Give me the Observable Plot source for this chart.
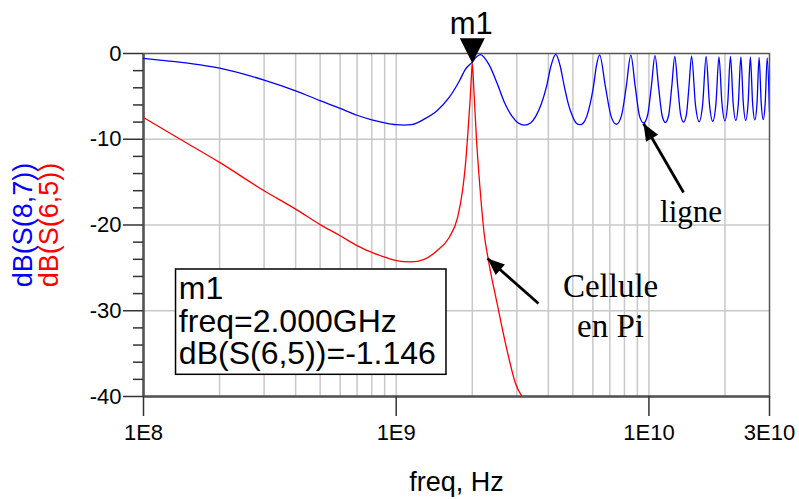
<!DOCTYPE html>
<html>
<head>
<meta charset="utf-8">
<script src="https://cdn.jsdelivr.net/npm/d3@7"></script>
<script src="https://cdn.jsdelivr.net/npm/@observablehq/plot@0.6"></script>
<style>
  html, body { margin: 0; padding: 0; background: #fff; }
</style>
</head>
<body>
<div id="chart"></div>
<script>
// ---- Data (frequency in GHz, level in dB) ----
const blueGHz = [0.1, 0.124, 0.168, 0.2, 0.3, 0.4, 0.5, 0.6, 0.7, 0.8, 0.9, 1.0, 1.07, 1.15, 1.29, 1.45, 1.62, 1.78, 1.88, 2.0, 2.07, 2.15,
  2.33, 2.51, 2.69, 2.87, 3.04, 3.22,
  3.4, 3.57, 3.75, 3.93, 4.1, 4.28,
  4.45, 4.63, 4.8, 4.98, 5.15, 5.33,
  5.5, 5.68, 5.85, 6.03, 6.2, 6.38,
  6.73, 7.08, 7.43,
  7.78, 8.13, 8.48,
  8.83, 9.18, 9.53,
  9.88, 10.22, 10.57,
  10.92, 11.27, 11.62,
  11.97, 12.31, 12.66,
  13.01, 13.36, 13.71,
  14.06, 14.4, 14.75,
  15.27, 15.8, 16.32, 16.84, 17.36, 17.89, 18.41, 18.93, 19.45, 19.98, 20.5, 21.02, 21.54, 22.07,
  22.59, 23.11, 23.63, 24.16, 24.68, 25.2, 25.72, 26.25, 26.77, 27.29, 27.81, 28.34, 28.86, 29.38, 30];
const blueDb = [-0.58, -0.85, -1.32, -1.7, -3.1, -4.35, -5.5, -6.4, -7.2, -7.73, -8.08, -8.3, -8.35, -8.3, -7.66, -6.68, -5.13, -3.18, -1.82, -1.0, -0.45, -0.12,
  -1.3, -3.5, -5.8, -7.3, -8.1, -8.35,
  -8.1, -7.3, -5.9, -3.9, -1.4, -0.1,
  -1.4, -3.9, -5.9, -7.3, -8.1, -8.3,
  -8.1, -7.3, -5.9, -3.9, -1.4, -0.15,
  -3.9, -7.3, -8.25,
  -7.3, -3.9, -0.2,
  -3.9, -7.3, -8.1,
  -7.2, -3.9, -0.25,
  -3.9, -7.2, -8.05,
  -7.2, -3.9, -0.35,
  -3.9, -7.2, -8.0,
  -7.2, -3.9, -0.3,
  -5.9, -7.95, -5.9, -0.35, -5.9, -7.9, -5.9, -0.4, -5.8, -7.85, -5.8, -0.35, -5.8, -7.8,
  -5.8, -0.4, -5.8, -7.8, -5.8, -0.4, -5.8, -7.75, -5.8, -0.45, -5.7, -7.7, -5.7, -0.5, -6.8];

const redGHz = [0.1, 0.136, 0.2, 0.3, 0.4, 0.5, 0.6, 0.7, 0.8, 0.9, 1.0, 1.14, 1.29, 1.45, 1.62, 1.75, 1.83, 1.88, 1.92, 1.96,
  1.99, 2.0, 2.03, 2.08, 2.15, 2.23, 2.32, 2.51, 2.75, 2.97, 3.2];
const redDb = [-7.46, -9.8, -12.7, -16.0, -18.15, -19.95, -21.25, -22.4, -23.2, -23.75, -24.15, -24.3, -24.0, -23.0, -21.45, -19.1, -16.0, -12.9, -9.4, -5.5,
  -2.0, -1.146, -4.35, -10.2, -16.0, -21.06, -24.2, -29.2, -34.7, -38.55, -40.3];

// ---- Axes / labels ----
const xTickValues = [1e8, 1e9, 1e10, 3e10];
const xTickLabels = ["1E8", "1E9", "1E10", "3E10"];
const yTickValues = [0, -10, -20, -30, -40];
const yTickLabels = ["0", "-10", "-20", "-30", "-40"];
const yMinorTicks = [-2, -4, -6, -8, -12, -14, -16, -18, -22, -24, -26, -28, -32, -34, -36, -38];
const xGrid = [2e8, 3e8, 4e8, 5e8, 6e8, 7e8, 8e8, 9e8, 1e9, 2e9, 3e9, 4e9, 5e9, 6e9, 7e9, 8e9, 9e9, 1e10, 2e10];
const yGrid = [-10, -20, -30];
const xLabel = "freq, Hz";
const blueLabel = "dB(S(8,7))";
const redLabel = "dB(S(6,5))";

// ---- Marker m1 ----
const markerName = "m1";
const markerFreqHz = 2e9;
const markerDb = -1.146;
const markerLines = ["m1", "freq=2.000GHz", "dB(S(6,5))=-1.146"];

// ---- Annotations ----
const ligneText = "ligne";
const celluleText = "Cellule\nen Pi";

// build tables
if (blueGHz.length !== blueDb.length || redGHz.length !== redDb.length) console.error("length mismatch");
const blue = blueGHz.map((g, i) => ({f: g * 1e9, db: blueDb[i]}));
const red = redGHz.map((g, i) => ({f: g * 1e9, db: redDb[i]}));
const xFmt = new Map(xTickValues.map((v, i) => [v, xTickLabels[i]]));
const yFmt = new Map(yTickValues.map((v, i) => [v, yTickLabels[i]]));

const sans = "'Liberation Sans', Arial, Helvetica, sans-serif";
const serif = "'Liberation Serif', 'Times New Roman', Times, serif";

// custom symbols
const downTriangle = {
  draw(ctx) { ctx.moveTo(0, 0); ctx.lineTo(-12.5, -25); ctx.lineTo(12.5, -25); ctx.closePath(); }
};
function headSymbol(angleDeg, len = 17, half = 7) {
  const a = angleDeg * Math.PI / 180, c = Math.cos(a), s = Math.sin(a);
  const pt = (x, y) => [x * c - y * s, x * s + y * c];
  return {
    draw(ctx) {
      const p1 = pt(-len, -half), p2 = pt(-len, half);
      ctx.moveTo(0, 0); ctx.lineTo(p1[0], p1[1]); ctx.lineTo(p2[0], p2[1]); ctx.closePath();
    }
  };
}

const ligneArrow = [{x1: 1.371e10, y1: -16.21, x2: 9.52e9, y2: -8.16}];
const celluleArrow = [{x1: 3.656e9, y1: -29.15, x2: 2.298e9, y2: -23.91}];

const chart = Plot.plot({
  width: 799,
  height: 499,
  marginTop: 53,
  marginRight: 30,
  marginBottom: 103,
  marginLeft: 143,
  style: {fontFamily: sans, background: "white", color: "black", overflow: "visible"},
  x: {type: "log", domain: [1e8, 3e10], label: null},
  y: {domain: [-40, 0], label: null},
  marks: [
    Plot.ruleX(xGrid, {stroke: "#c8c8c8", strokeWidth: 1.5}),
    Plot.ruleY(yGrid, {stroke: "#c8c8c8", strokeWidth: 1.5}),
    Plot.frame({stroke: "#555", strokeWidth: 1.5}),
    Plot.ruleX([1e8], {stroke: "#555", strokeWidth: 2.5}),
    Plot.ruleY([-40], {stroke: "#555", strokeWidth: 2.5}),
    Plot.axisY(yMinorTicks, {tickSize: 10, tickFormat: () => "", stroke: "#333", strokeWidth: 1.5, label: null}),
    Plot.axisY(yTickValues, {tickSize: 20, tickPadding: 2, fontSize: 22, tickFormat: d => yFmt.get(d), stroke: "#333", fill: "black", strokeWidth: 1.5, label: null}),
    Plot.axisX(xTickValues, {tickSize: 20, tickPadding: 8, fontSize: 22, tickFormat: d => xFmt.get(d), stroke: "#333", fill: "black", strokeWidth: 1.5, label: null}),
    Plot.line(blue, {x: "f", y: "db", stroke: "#0000ff", strokeWidth: 1.3, curve: "monotone-x", clip: true}),
    Plot.line(red, {x: "f", y: "db", stroke: "#ff0000", strokeWidth: 1.3, curve: "monotone-x", clip: true}),
    // marker
    Plot.dot([{f: markerFreqHz, db: markerDb}], {x: "f", y: "db", symbol: downTriangle, fill: "black", stroke: "none"}),
    Plot.text([{f: markerFreqHz, db: markerDb, t: markerName}], {x: "f", y: "db", text: "t", dy: -29.5, dx: -1, lineAnchor: "bottom", fontSize: 31, fill: "black"}),
    // marker readout box
    Plot.rect([{a: 1.345e8, b: 1.581e9, c: -25.19, d: -37.47}], {x1: "a", x2: "b", y1: "c", y2: "d", fill: "white", stroke: "black", strokeWidth: 1.5}),
    Plot.text([markerLines.join("\n")], {x: () => 1.38e8, y: () => -25.96, textAnchor: "start", lineAnchor: "top", lineHeight: 1.016, fontSize: 32, fill: "black"}),
    // annotations
    Plot.link(ligneArrow, {x1: "x1", y1: "y1", x2: "x2", y2: "y2", stroke: "black", strokeWidth: 2.8}),
    Plot.dot([ligneArrow[0]], {x: "x2", y: "y2", symbol: headSymbol(-120.1), fill: "black", stroke: "none"}),
    Plot.link(celluleArrow, {x1: "x1", y1: "y1", x2: "x2", y2: "y2", stroke: "black", strokeWidth: 2.8}),
    Plot.dot([celluleArrow[0]], {x: "x2", y: "y2", symbol: headSymbol(-138.6), fill: "black", stroke: "none"}),
    Plot.text([ligneText], {x: () => 1.468e10, y: () => -19.67, lineAnchor: "bottom", fontSize: 31, fontFamily: serif, fill: "black"}),
    Plot.text([celluleText], {x: () => 7.05e9, y: () => -25.1, lineAnchor: "top", lineHeight: 1.212, fontSize: 33, fontFamily: serif, fill: "black"}),
    // axis titles
    Plot.text([xLabel], {frameAnchor: "bottom", dy: 94, textAnchor: "middle", lineAnchor: "bottom", fontSize: 27, fill: "black"}),
    Plot.text([blueLabel], {frameAnchor: "left", dx: -120.6, rotate: -90, textAnchor: "middle", lineAnchor: "middle", fontSize: 27, fill: "#0000ff"}),
    Plot.text([redLabel], {frameAnchor: "left", dx: -94.6, rotate: -90, textAnchor: "middle", lineAnchor: "middle", fontSize: 27, fill: "#ff0000"})
  ]
});
document.getElementById("chart").appendChild(chart);
</script>
</body>
</html>
